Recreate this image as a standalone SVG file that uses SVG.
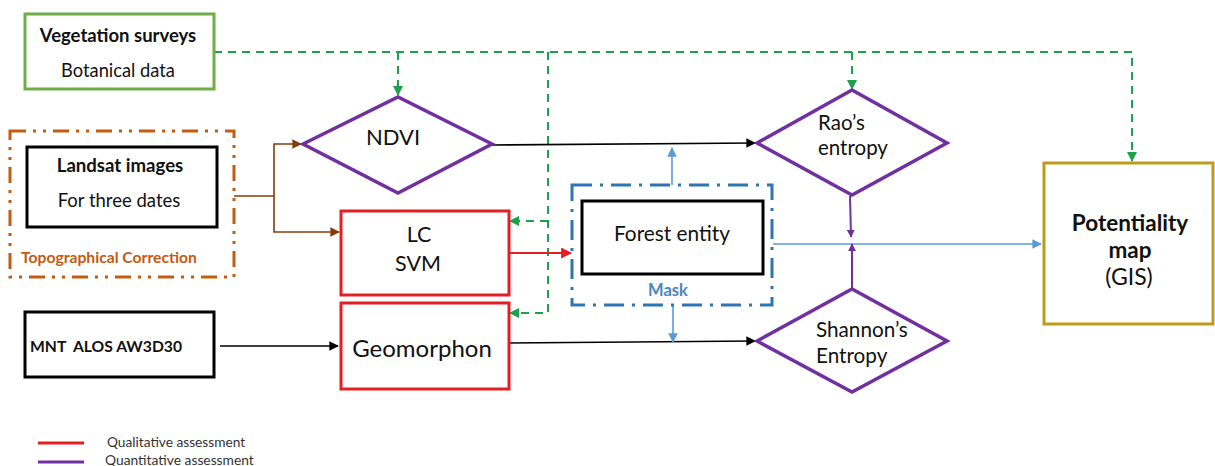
<svg xmlns="http://www.w3.org/2000/svg" width="1215" height="466" viewBox="0 0 1215 466">
<style>
text{font-family:Lato,"Open Sans","Liberation Sans",sans-serif;fill:#111}
.b{font-weight:bold}
.box{fill:#fff;stroke:#000;stroke-width:3}
.red{fill:#fff;stroke:#e31e24;stroke-width:3}
.dia{fill:#fff;stroke:#7030a0;stroke-width:3.5}
.gd{fill:none;stroke:#1fa04a;stroke-width:2;stroke-dasharray:8,6}
.bl{fill:none;stroke:#000;stroke-width:1.6}
.br{fill:none;stroke:#843c0c;stroke-width:1.6}
.bu{fill:none;stroke:#5b9bd5;stroke-width:1.6}
</style>
<defs>
<marker id="ag" viewBox="0 0 10 10" refX="9" refY="5" markerWidth="5" markerHeight="5" orient="auto"><path d="M0,0L10,5L0,10z" fill="#1fa04a"/></marker>
<marker id="ak" viewBox="0 0 10 10" refX="9" refY="5" markerWidth="6" markerHeight="6" orient="auto"><path d="M0,0L10,5L0,10z" fill="#000"/></marker>
<marker id="ab" viewBox="0 0 10 10" refX="9" refY="5" markerWidth="6" markerHeight="6" orient="auto"><path d="M0,0L10,5L0,10z" fill="#843c0c"/></marker>
<marker id="au" viewBox="0 0 10 10" refX="9" refY="5" markerWidth="6" markerHeight="6" orient="auto"><path d="M0,0L10,5L0,10z" fill="#5b9bd5"/></marker>
<marker id="ar" viewBox="0 0 10 10" refX="9" refY="5" markerWidth="5" markerHeight="5" orient="auto"><path d="M0,0L10,5L0,10z" fill="#e31e24"/></marker>
<marker id="ap" viewBox="0 0 10 10" refX="9" refY="5" markerWidth="4" markerHeight="4" orient="auto"><path d="M0,0L10,5L0,10z" fill="#7030a0"/></marker>
</defs>

<g id="connectors">
<path class="gd" d="M214,52H1132V161" marker-end="url(#ag)"/>
<path class="gd" d="M398,52V95" marker-end="url(#ag)"/>
<path class="gd" d="M852,52V89" marker-end="url(#ag)"/>
<path class="gd" d="M548,52V313H510" marker-end="url(#ag)"/>
<path class="gd" d="M548,221H510" marker-end="url(#ag)"/>
<path class="br" d="M234,196H274V144H301" marker-end="url(#ab)"/>
<path class="br" d="M274,196V232H339" marker-end="url(#ab)"/>
<path class="bl" d="M492,145L755,143" marker-end="url(#ak)"/>
<path class="bl" d="M508,343L755,341" marker-end="url(#ak)"/>
<path class="bl" d="M220,346H338" marker-end="url(#ak)"/>
<path fill="none" stroke="#e31e24" stroke-width="2.2" d="M509,253H571" marker-end="url(#ar)"/>
<path class="bu" d="M773,244H1041" marker-end="url(#au)"/>
<path class="bu" d="M672,185V148" marker-end="url(#au)"/>
<path class="bu" d="M673,305V342" marker-end="url(#au)"/>
<path fill="none" stroke="#7030a0" stroke-width="2" d="M850,196L851,237" marker-end="url(#ap)"/>
<path fill="none" stroke="#7030a0" stroke-width="2" d="M852,289V244" marker-end="url(#ap)"/>
</g>

<g id="vegetation">
<rect x="25" y="14" width="189" height="75" fill="#fff" stroke="#70ad47" stroke-width="3"/>
<text x="118" y="42" text-anchor="middle" class="b" font-size="18.5">Vegetation surveys</text>
<text x="118" y="77" text-anchor="middle" font-size="18.3">Botanical data</text>
</g>

<g id="landsat">
<rect x="10" y="131" width="224" height="146" fill="none" stroke="#c55a11" stroke-width="3" stroke-dasharray="16,7,3,7,3,7"/>
<rect x="27" y="147" width="190" height="80" class="box"/>
<text x="120" y="172" text-anchor="middle" class="b" font-size="18.6">Landsat images</text>
<text x="119" y="207" text-anchor="middle" font-size="18.5">For three dates</text>
<text x="21" y="263" class="b" font-size="15.7" style="fill:#c55a11">Topographical Correction</text>
</g>

<g id="mnt">
<rect x="25" y="312" width="189" height="65" class="box"/>
<text x="30" y="352" class="b" font-size="15.7" xml:space="preserve">MNT  ALOS AW3D30</text>
</g>

<g id="ndvi">
<polygon points="303,144 398,97 492,144 398,193" class="dia"/>
<text x="393" y="145" text-anchor="middle" font-size="22">NDVI</text>
</g>

<g id="lc">
<rect x="341" y="211" width="168" height="84" class="red"/>
<text x="419" y="242" text-anchor="middle" font-size="21.5">LC</text>
<text x="418" y="271" text-anchor="middle" font-size="21.5">SVM</text>
</g>

<g id="geomorphon">
<rect x="341" y="303" width="168" height="86" class="red"/>
<text x="422" y="357" text-anchor="middle" font-size="24">Geomorphon</text>
</g>

<g id="mask">
<rect x="572" y="185" width="200" height="120" fill="none" stroke="#2e75b6" stroke-width="3" stroke-dasharray="20,8,3,8"/>
<rect x="582" y="201" width="181" height="73" class="box"/>
<text x="672" y="241" text-anchor="middle" font-size="20.8">Forest entity</text>
<text x="668" y="296" text-anchor="middle" class="b" font-size="16.5" style="fill:#4a86c0">Mask</text>
</g>

<g id="rao">
<polygon points="757,143 852,90 947,143 852,195" class="dia"/>
<text x="818" y="130" font-size="20.5">Rao’s</text>
<text x="818" y="155" font-size="20.5">entropy</text>
</g>

<g id="shannon">
<polygon points="757,341 852,289 947,341 852,392" class="dia"/>
<text x="816" y="337" font-size="20.7">Shannon’s</text>
<text x="816" y="363" font-size="20.7">Entropy</text>
</g>

<g id="potentiality">
<rect x="1044" y="163" width="169" height="161" fill="#fff" stroke="#bf9b1a" stroke-width="3"/>
<text x="1130" y="231" text-anchor="middle" class="b" font-size="22.5">Potentiality</text>
<text x="1130" y="258" text-anchor="middle" class="b" font-size="22.5">map</text>
<text x="1129" y="285" text-anchor="middle" font-size="23">(GIS)</text>
</g>

<g id="legend">
<line x1="38" y1="443" x2="84" y2="443" stroke="#e31e24" stroke-width="3"/>
<line x1="38" y1="462" x2="84" y2="462" stroke="#7030a0" stroke-width="3"/>
<text x="107" y="447" font-size="13.7" style="fill:#333">Qualitative assessment</text>
<text x="105" y="465" font-size="13.8" style="fill:#333">Quantitative assessment</text>
</g>
</svg>
